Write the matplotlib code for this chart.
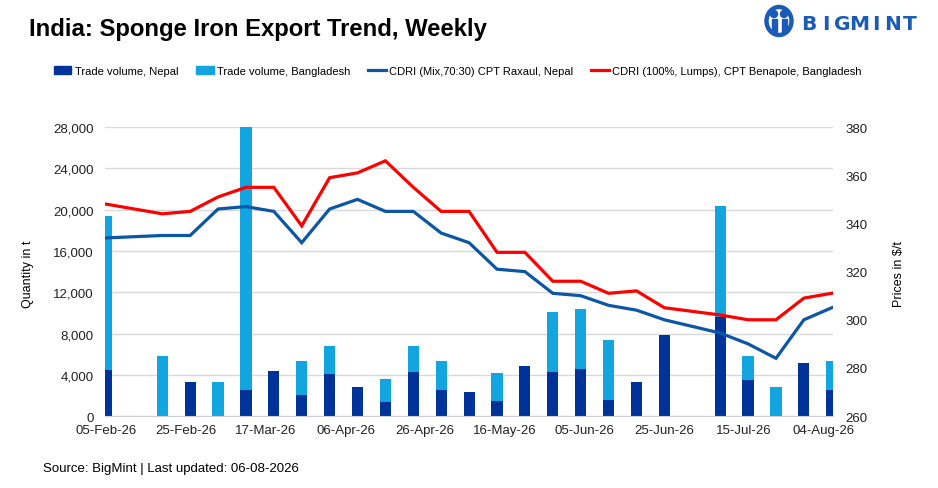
import matplotlib.pyplot as plt
import matplotlib.dates as mdates
from matplotlib.patches import Patch, Ellipse, Rectangle
from matplotlib.lines import Line2D
from matplotlib.ticker import FuncFormatter, MultipleLocator
import numpy as np
import pandas as pd

# weekly observations (no data for 12-Feb and 02-Jul)
dates = ["2026-02-05", "2026-02-19", "2026-02-26", "2026-03-05", "2026-03-12",
         "2026-03-19", "2026-03-26", "2026-04-02", "2026-04-09", "2026-04-16",
         "2026-04-23", "2026-04-30", "2026-05-07", "2026-05-14", "2026-05-21",
         "2026-05-28", "2026-06-04", "2026-06-11", "2026-06-18", "2026-06-25",
         "2026-07-09", "2026-07-16", "2026-07-23", "2026-07-30", "2026-08-06"]

vol_nepal = [4500, 0, 3270, 0, 2490, 4340, 2000, 4050, 2780, 1330, 4240, 2490, 2300,
             1490, 4880, 4300, 4590, 1580, 3330, 7880, 9630, 3520, 0, 5170, 2550]
vol_bangladesh = [14900, 5800, 0, 3270, 25510, 0, 3310, 2710, 0, 2230, 2520, 2820, 0,
                  2710, 0, 5810, 5810, 5820, 0, 0, 10770, 2330, 2840, 0, 2810]

price_raxaul = [334, 335, 335, 346, 347, 345, 332, 346, 350, 345, 345, 336, 332,
                321, 320, 311, 310, 306, 304, 300, 294.5, 290, 284, 300, 305]
price_benapole = [348, 344, 345, 351, 355, 355, 339, 359, 361, 366, 355, 345, 345,
                  328, 328, 316, 316, 311, 312, 305, 302, 300, 300, 309, 311]

tick_start = "2026-02-05"
tick_end = "2026-08-04"

labels = ["Trade volume, Nepal", "Trade volume, Bangladesh",
          "CDRI (Mix,70:30) CPT Raxaul, Nepal",
          "CDRI (100%, Lumps), CPT Benapole, Bangladesh"]

c_nepal = "#003399"
c_bd = "#12a5e0"
c_blue = "#0b56a5"
c_red = "#ff0000"

plt.rcParams['font.family'] = ['Liberation Sans', 'DejaVu Sans']

x = mdates.date2num(pd.to_datetime(dates))
nepal = np.array(vol_nepal)
bd = np.array(vol_bangladesh)

fig = plt.figure(figsize=(9.38, 4.89), dpi=100)
ax = fig.add_axes([0.112, 0.147, 0.776, 0.591])
ax2 = ax.twinx()

ax.bar(x, nepal, width=2.8, color=c_nepal, zorder=2)
ax.bar(x, bd, bottom=nepal, width=2.8, color=c_bd, zorder=2)
ax2.plot(x, price_raxaul, color=c_blue, lw=2.3, solid_joinstyle="miter")
ax2.plot(x, price_benapole, color=c_red, lw=2.3, solid_joinstyle="miter")

ax.set_ylim(0, 28000)
ax.yaxis.set_major_locator(MultipleLocator(4000))
ax.yaxis.set_major_formatter(FuncFormatter(lambda v, p: f"{int(v):,}"))
ax2.set_ylim(260, 380)
ax2.yaxis.set_major_locator(MultipleLocator(20))

ax.set_xlim(x[0] - 0.35, x[-1] + 0.3)
ticks = mdates.date2num(pd.date_range(tick_start, tick_end, freq="20D"))
ax.set_xticks(ticks)
ax.xaxis.set_major_formatter(mdates.DateFormatter("%d-%b-%y"))

ax.grid(axis="y", color="#d9d9d9", lw=1, zorder=0)
ax.set_axisbelow(True)
for a in (ax, ax2):
    for s in a.spines.values():
        s.set_visible(False)
    a.tick_params(length=0, labelsize=9.5, colors="#222222")
ax.spines["bottom"].set_visible(True)
ax.spines["bottom"].set_color("#d0d0d0")
ax.tick_params(axis="y", pad=8)
ax.tick_params(axis="x", pad=6)
ax2.tick_params(axis="y", pad=9)

fig.text(0.030, 0.44, "Quantity in t", rotation=90, ha="center", va="center", fontsize=9)
fig.text(0.958, 0.44, "Prices in $/t", rotation=90, ha="center", va="center", fontsize=9)

fig.text(0.031, 0.94, "India: Sponge Iron Export Trend, Weekly", fontsize=17.2,
         fontweight="bold", va="center")

handles = [Patch(color=c_nepal), Patch(color=c_bd),
           Line2D([], [], color=c_blue, lw=2.3), Line2D([], [], color=c_red, lw=2.3)]
fig.legend(handles, labels, loc="center", bbox_to_anchor=(0.488, 1 - 72 / 489), ncol=4,
           frameon=False, fontsize=8, handlelength=1.6, handletextpad=0.3,
           columnspacing=1.6)

fig.text(0.046, 0.04, "Source: BigMint | Last updated: 06-08-2026", fontsize=9.5, va="center")

# logo
logo_blue = "#1a5bb8"
tf = fig.transFigure
fig.patches.append(Ellipse((779 / 938, 1 - 22 / 489), 25 / 938, 28 / 489, transform=tf,
                           fill=False, lw=3.2, color=logo_blue))
for hx in (774, 784):
    fig.patches.append(Ellipse((hx / 938, 1 - 15 / 489), 7 / 938, 7 / 489, transform=tf,
                               color=logo_blue))
    fig.patches.append(Rectangle(((hx - 2.5) / 938, 1 - 33 / 489), 5 / 938, 13 / 489,
                                 transform=tf, color=logo_blue))
for i, ch in enumerate("BIGMINT"):
    fig.text((809 + i * 16.8) / 938, 1 - 24.5 / 489, ch, fontsize=14.5, fontweight="heavy",
             color=logo_blue, va="center", ha="center", family="DejaVu Sans")

fig.savefig("out.png", dpi=100)
